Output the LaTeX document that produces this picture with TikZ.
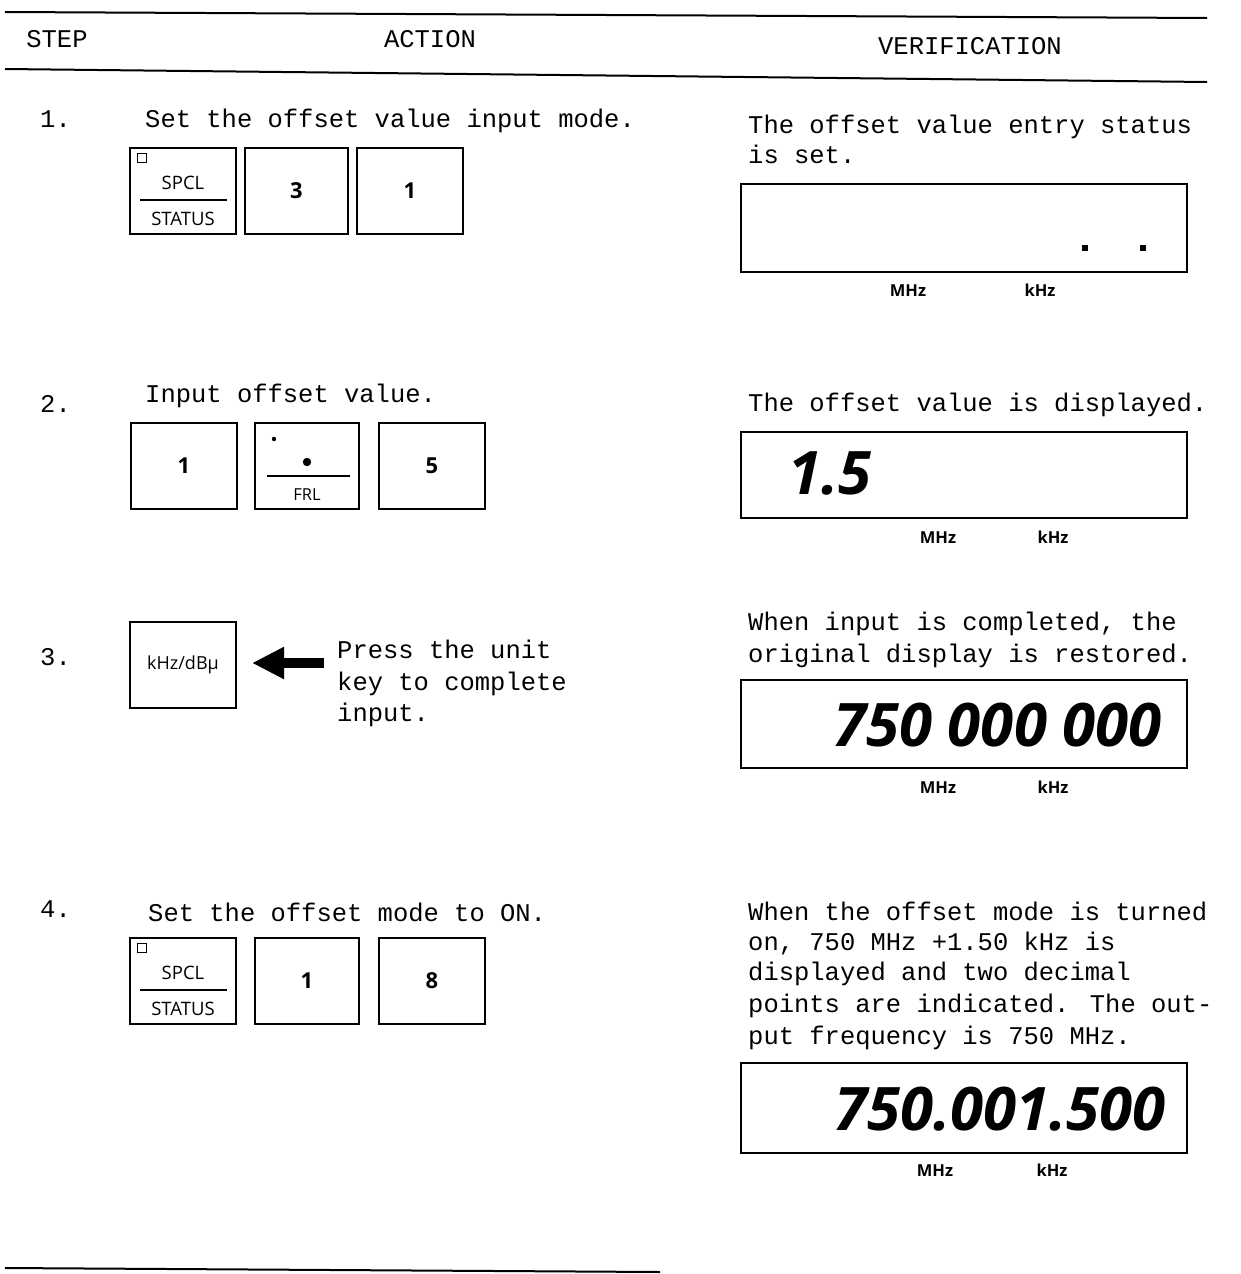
\documentclass[tikz,border=0pt]{standalone}
\usepackage{fontspec}
\setmainfont{Liberation Mono}
\newfontfamily\keyfont{Open Sans}
\usetikzlibrary{arrows.meta,calc}
\begin{document}
\begin{tikzpicture}[x=1pt,y=-1pt,
  tt/.style={font=\fontsize{25.5}{31}\selectfont, anchor=mid west, inner sep=0pt, yshift=-5pt},
  hd/.style={font=\fontsize{25.5}{31}\selectfont, inner sep=0pt, anchor=mid, yshift=-5pt},
  num/.style={font=\fontsize{25.5}{31}\selectfont, anchor=mid west, inner sep=0pt, yshift=-5pt},
  keybox/.style={draw, line width=1.3pt, minimum width=106pt, minimum height=86pt, inner sep=0pt},
  keydig/.style={font=\keyfont\bfseries\fontsize{22}{24}\selectfont},
  keylab/.style={font=\keyfont\fontsize{18.5}{20}\selectfont, inner sep=0pt},
  disp/.style={draw, line width=1.5pt, minimum width=446pt, inner sep=0pt},
  unit/.style={font=\keyfont\bfseries\fontsize{16.5}{18}\selectfont, inner sep=0pt, anchor=base, yshift=-6pt},
  bigfont/.style={font=\keyfont\bfseries\itshape\fontsize{60}{62}\selectfont, inner sep=0pt},
  big/.style={bigfont, anchor=base east},
  rule/.style={line width=2pt}
]
\useasboundingbox (0,0) rectangle (1240,1274);
\fill[white] (0,0) rectangle (1240,1274);

% header
\draw[rule] (5,12) -- (1207,18);
\draw[rule] (5,69) -- (1207,82);
\node[hd] (hstep) at (57,40) {STEP};
\node[hd] (hact) at (430,40) {ACTION};
\node[hd] (hver) at (970,47) {VERIFICATION};

% step numbers
\node[num] (n1) at (40,120) {1.};
\node[num] (n2) at (40,405) {2.};
\node[num] (n3) at (40,658) {3.};
\node[num] (n4) at (40,910) {4.};

% ---------- step 1
\node[tt] (a1) at (145,120) {Set the offset value input mode.};
\node[keybox] (k1a) at (183,191) {};
\draw[line width=1pt] ($(k1a.north west)+(8,6)$) coordinate (sq1) rectangle ++(9,9);
\node[keylab] (k1as) at (183,183) {SPCL};
\draw[line width=1.4pt] (140,200) coordinate (l1a) -- (227,200) coordinate (l1b);
\node[keylab] (k1at) at (183,219) {STATUS};
\node[keybox, minimum width=103pt] (k1b) at (296.5,191) {};
\node[keydig] at (k1b) {3};
\node[keybox] (k1c) at (410,191) {};
\node[keydig] at (k1c) {1};

\node[tt] (v1a) at (748,126) {The offset value entry status};
\node[tt] (v1b) at (748,156) {is set.};
\node[disp, minimum height=88pt] (d1) at (964,228) {};
\fill (1082,245) rectangle ++(6,6);
\fill (1140,245) rectangle ++(6,6);
\node[unit] (d1m) at (908,290) {MHz};
\node[unit] (d1k) at (1040,290) {kHz};

% ---------- step 2
\node[tt] (a2) at (145,395) {Input offset value.};
\node[keybox] (k2a) at (184,466) {};
\node[keydig] at (k2a) {1};
\node[keybox, minimum width=104pt] (k2b) at (307,466) {};
\fill (274,439) circle (2.2);
\fill (307,462) circle (4.2);
\draw[line width=1.4pt] (267,476) -- (350,476);
\node[keylab, font=\keyfont\fontsize{16.5}{18}\selectfont] (k2bf) at (307,495) {FRL};
\node[keybox] (k2c) at (432,466) {};
\node[keydig] at (k2c) {5};

\node[tt] (v2) at (748,404) {The offset value is displayed.};
\node[disp, minimum height=86pt] (d2) at (964,475) {};
\node[bigfont, anchor=base west] (d2n) at (788,494) {1.5};
\node[unit] (d2m) at (938,537) {MHz};
\node[unit] (d2k) at (1053,537) {kHz};

% ---------- step 3
\node[keybox] (k3) at (183,665) {};
\node[font=\keyfont\fontsize{18}{20}\selectfont] at (k3) {kHz/dBμ};
\coordinate (artail) at (324,663);
\coordinate (artip) at (252,663);
\draw[line width=10pt, -{Triangle[length=32pt,width=30pt]}] (artail) -- (artip);
\node[tt] (a3a) at (337,651) {Press the unit};
\node[tt] (a3b) at (337,683) {key to complete};
\node[tt] (a3c) at (337,714) {input.};

\node[tt] (v3a) at (748,623) {When input is completed, the};
\node[tt] (v3b) at (748,655) {original display is restored.};
\node[disp, minimum height=88pt] (d3) at (964,724) {};
\node[big] (d3n) at (1162,746) {750 000 000};
\node[unit] (d3m) at (938,787) {MHz};
\node[unit] (d3k) at (1053,787) {kHz};

% ---------- step 4
\node[tt] (a4) at (148,914) {Set the offset mode to ON.};
\node[keybox] (k4a) at (183,981) {};
\draw[line width=1pt] ($(k4a.north west)+(8,6)$) coordinate (sq4) rectangle ++(9,9);
\node[keylab] (k4as) at (183,973) {SPCL};
\draw[line width=1.4pt] (140,990) -- (227,990);
\node[keylab] (k4at) at (183,1009) {STATUS};
\node[keybox, minimum width=104pt] (k4b) at (307,981) {};
\node[keydig] at (k4b) {1};
\node[keybox] (k4c) at (432,981) {};
\node[keydig] at (k4c) {8};

\node[tt] (v4a) at (748,913) {When the offset mode is turned};
\node[tt] (v4b) at (748,943) {on, 750 MHz +1.50 kHz is};
\node[tt] (v4c) at (748,973) {displayed and two decimal};
\node[tt] (v4d) at (748,1005) {points are indicated.  The out-};
\node[tt] (v4e) at (748,1037) {put frequency is 750 MHz.};
\node[disp, minimum height=90pt] (d4) at (964,1108) {};
\node[big] (d4n) at (1166,1130) {750.001.500};
\node[unit] (d4m) at (935,1170) {MHz};
\node[unit] (d4k) at (1052,1170) {kHz};

% bottom rule
\draw[rule] (5,1268) -- (660,1272);
\end{tikzpicture}
\end{document}
